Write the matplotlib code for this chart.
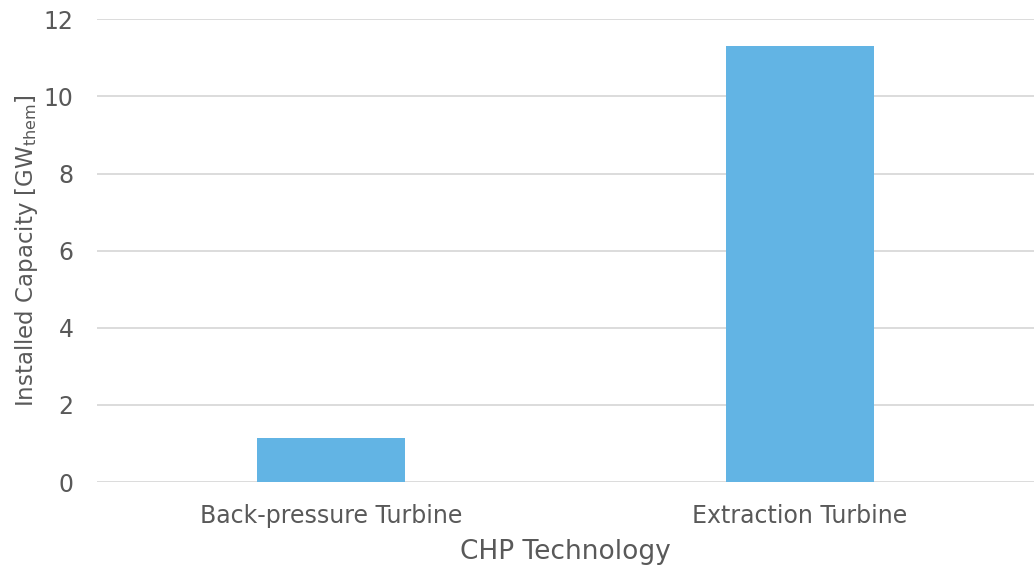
import matplotlib.pyplot as plt

categories = ["Back-pressure Turbine", "Extraction Turbine"]
capacity = [1.14, 11.31]

grey = "#595959"

plt.rcParams['font.family'] = ['DejaVu Sans']
plt.rcParams['mathtext.fontset'] = 'dejavusans'

fig = plt.figure(figsize=(10.34, 5.68), dpi=100)
ax = fig.add_axes([0.094, 0.1514, 0.906, 0.8146])

x = range(len(categories))
ax.bar(x, capacity, width=0.316, color='#62B4E4', zorder=3)

ax.set_xlim(-0.5, len(categories) - 0.5)
ax.set_ylim(0, 12)
ax.set_yticks(range(0, 13, 2))
ax.set_xticks(list(x))
ax.set_xticklabels(categories)

ax.grid(axis='y', color='#D9D9D9', linewidth=1.3, zorder=0)
for s in ax.spines.values():
    s.set_visible(False)
ax.tick_params(axis='both', length=0, labelsize=17, colors=grey)
ax.tick_params(axis='y', pad=17)
ax.tick_params(axis='x', pad=16)

ax.set_xlabel("CHP Technology", fontsize=19, color=grey, labelpad=8)
ax.set_ylabel("Installed Capacity [GW$_\\mathregular{them}$]", fontsize=16.5, color=grey, labelpad=3)

plt.savefig("out.png", dpi=100, facecolor='white')
plt.close()
